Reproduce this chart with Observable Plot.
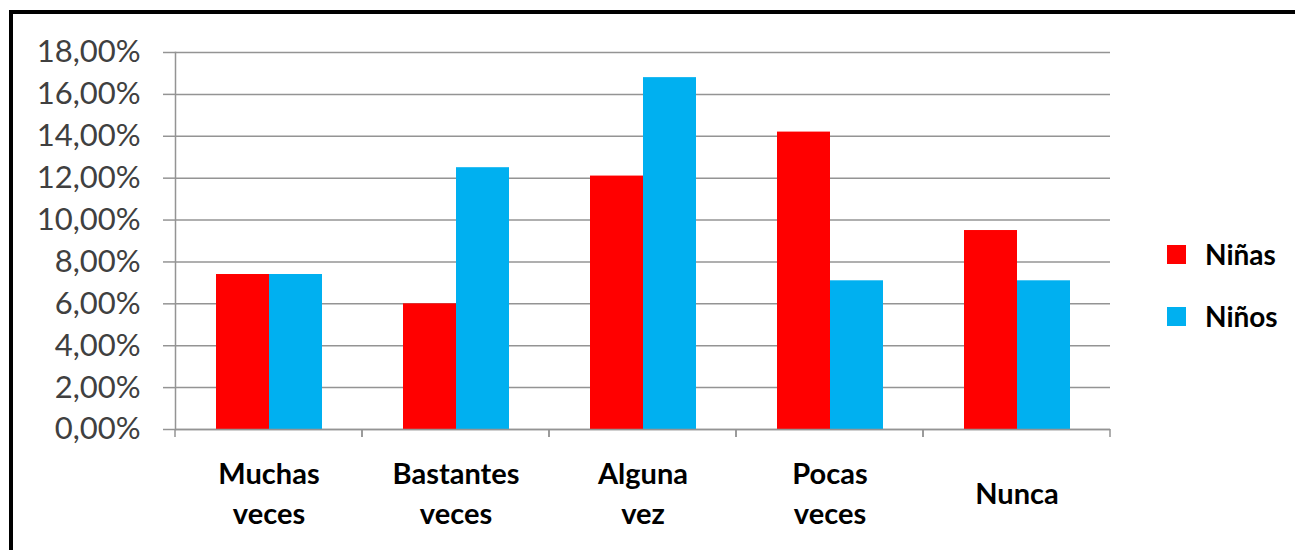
<!DOCTYPE html>
<html>
<head>
<meta charset="utf-8">
<script src="https://cdn.jsdelivr.net/npm/d3@7"></script>
<script src="https://cdn.jsdelivr.net/npm/@observablehq/plot@0.6"></script>
<style>
  body { margin: 0; background: #fff; width: 1295px; height: 550px; overflow: hidden; position: relative; }
  #chart { position: absolute; left: 0; top: 0; }
  #frame { position: absolute; left: 9px; top: 10px; width: 1400px; height: 700px; border: 4px solid #000; pointer-events: none; }
  #legend { position: absolute; left: 1167px; top: 236px; font-family: Lato, "Open Sans", sans-serif; font-weight: bold; font-size: 28px; color: #000; }
  #legend .item { display: flex; align-items: center; height: 36px; margin-bottom: 26px; }
  #legend .sw { width: 19px; height: 19px; margin-right: 19px; }
</style>
</head>
<body>
<div id="chart"></div>
<div id="legend"></div>
<div id="frame"></div>
<script>
const categories = ["Muchas\nveces", "Bastantes\nveces", "Alguna\nvez", "Pocas\nveces", "Nunca"];
const series = ["Niñas", "Niños"];
const ninas = [7.4, 6.0, 12.1, 14.2, 9.5];
const ninos = [7.4, 12.5, 16.8, 7.1, 7.1];
const colors = ["#FF0000", "#00B0F0"];
const yTicks = [0, 2, 4, 6, 8, 10, 12, 14, 16, 18];

const rows = categories.flatMap((c, i) => [
  {cat: c, serie: series[0], value: ninas[i]},
  {cat: c, serie: series[1], value: ninos[i]}
]);

const fmt = d => d.toFixed(2).replace(".", ",") + "%";
const gray = "#949494";

function boundaryTicks(index, scales, values, dimensions) {
  let r;
  if (scales.x && scales.x.range) r = scales.x.range();
  else r = [dimensions.marginLeft, dimensions.width - dimensions.marginRight];
  const y0 = scales.y(0);
  const g = d3.create("svg:g").attr("stroke", gray).attr("stroke-width", 1.5);
  for (const x of r) {
    g.append("line").attr("x1", x).attr("x2", x).attr("y1", y0).attr("y2", y0 + 8);
  }
  return g.node();
}

const chart = Plot.plot({
  width: 1160,
  height: 550,
  marginLeft: 173,
  marginRight: 49,
  marginTop: 52,
  marginBottom: 121,
  style: {fontFamily: "Lato, 'Open Sans', sans-serif", background: "transparent", overflow: "visible"},
  fx: {domain: categories, padding: 0, axis: null},
  x: {domain: series, paddingInner: 0, paddingOuter: 0.75, axis: null},
  y: {domain: [0, 18], axis: null},
  color: {domain: series, range: colors},
  marks: [
    Plot.gridY(yTicks, {stroke: gray, strokeOpacity: 1, strokeWidth: 1.5}),
    Plot.axisY(yTicks, {label: null, tickSize: 12, tickPadding: 23, tickFormat: fmt, fontSize: 31, stroke: gray, strokeWidth: 1.5, fill: "#404040"}),
    Plot.barY(rows, {fx: "cat", x: "serie", y: "value", fill: "serie"}),
    Plot.ruleY([0], {stroke: gray, strokeWidth: 1.5}),
    Plot.frame({anchor: "left", facetAnchor: "left", stroke: gray, strokeWidth: 1.5}),
    boundaryTicks,
    Plot.text(categories, {fx: d => d, text: d => d, frameAnchor: "bottom", lineAnchor: "middle", dy: 62, fontWeight: "bold", fontSize: 29, fill: "#000", lineHeight: 1.35})
  ]
});
document.getElementById("chart").appendChild(chart);

const legend = d3.select("#legend");
series.forEach((s, i) => {
  const it = legend.append("div").attr("class", "item");
  it.append("div").attr("class", "sw").style("background", colors[i]);
  it.append("span").text(s);
});
</script>
</body>
</html>
